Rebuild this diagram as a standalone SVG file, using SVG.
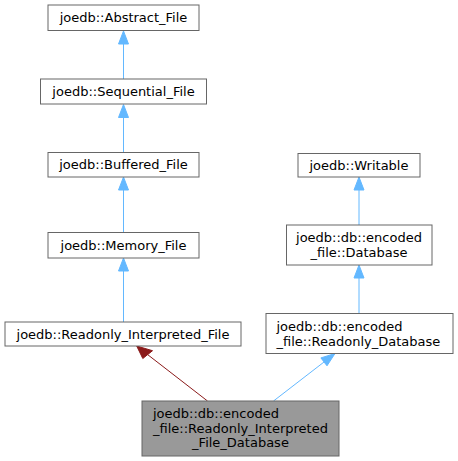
<svg xmlns="http://www.w3.org/2000/svg" width="458" height="461" viewBox="0 0 458 461">
<style>
.n rect{fill:#ffffff;stroke:#666666;stroke-width:1}
.n.cur rect{fill:#999999}
.n text{font-family:"DejaVu Sans","Liberation Sans",sans-serif;font-size:13px;fill:#000000}
.m{text-anchor:middle}
.s{text-anchor:start}
.eb{stroke:#63b8ff;fill:none;stroke-width:1}
.ebh{fill:#63b8ff;stroke:#63b8ff}
.er{stroke:#8b1a1a;fill:none;stroke-width:1}
.erh{fill:#8b1a1a;stroke:#8b1a1a}
</style>
<rect width="458" height="461" fill="#ffffff"/>
<g id="connectors">
<line class="eb" x1="123.5" y1="79" x2="123.5" y2="44"/>
<polygon class="ebh" points="118.5,44 123.5,31 128.5,44"/>
<line class="eb" x1="123.5" y1="152.5" x2="123.5" y2="117.5"/>
<polygon class="ebh" points="118.5,117.5 123.5,104.5 128.5,117.5"/>
<line class="eb" x1="123.5" y1="232.5" x2="123.5" y2="190"/>
<polygon class="ebh" points="118.5,190 123.5,177 128.5,190"/>
<line class="eb" x1="123.5" y1="322" x2="123.5" y2="271"/>
<polygon class="ebh" points="118.5,271 123.5,258 128.5,271"/>
<line class="eb" x1="359" y1="225" x2="359" y2="190"/>
<polygon class="ebh" points="354,190 359,177 364,190"/>
<line class="eb" x1="359" y1="313.5" x2="359" y2="278"/>
<polygon class="ebh" points="354,278 359,265 364,278"/>
<line class="er" x1="207.5" y1="401" x2="147.5" y2="354.5"/>
<polygon class="erh" points="152.5,350.7 136.7,346 142.8,358.5"/>
<line class="eb" x1="273.5" y1="401" x2="324" y2="362"/>
<polygon class="ebh" points="327,365.8 335,353.5 320.9,357.9"/>
</g>
<g id="abstract_file" class="n"><rect x="48" y="5" width="151" height="25.5"/><text class="m" x="123.5" y="22.3">joedb::Abstract_File</text></g>
<g id="sequential_file" class="n"><rect x="40.5" y="79" width="166" height="25"/><text class="m" x="123.5" y="96">joedb::Sequential_File</text></g>
<g id="buffered_file" class="n"><rect x="48" y="152.5" width="151" height="24.5"/><text class="m" x="123.5" y="169.3">joedb::Buffered_File</text></g>
<g id="memory_file" class="n"><rect x="48" y="232.5" width="151" height="25.5"/><text class="m" x="123.5" y="249.8">joedb::Memory_File</text></g>
<g id="readonly_interpreted_file" class="n"><rect x="5" y="322" width="236" height="24"/><text class="m" x="123" y="338.5">joedb::Readonly_Interpreted_File</text></g>
<g id="writable" class="n"><rect x="298" y="153.5" width="122" height="23.5"/><text class="m" x="359" y="169.8">joedb::Writable</text></g>
<g id="database" class="n"><rect x="286.5" y="225" width="145.5" height="40"/><text class="m" x="359" y="242">joedb::db::encoded</text><text class="m" x="359" y="257">_file::Database</text></g>
<g id="readonly_database" class="n"><rect x="266" y="313.5" width="187" height="40"/><text class="s" x="276.5" y="330.5">joedb::db::encoded</text><text class="s" x="276.5" y="345.5">_file::Readonly_Database</text></g>
<g id="readonly_interpreted_file_database" class="n cur"><rect x="142" y="401" width="197" height="55"/><text class="s" x="153" y="418">joedb::db::encoded</text><text class="s" x="153" y="432.5">_file::Readonly_Interpreted</text><text class="m" x="240.5" y="447">_File_Database</text></g>
</svg>
